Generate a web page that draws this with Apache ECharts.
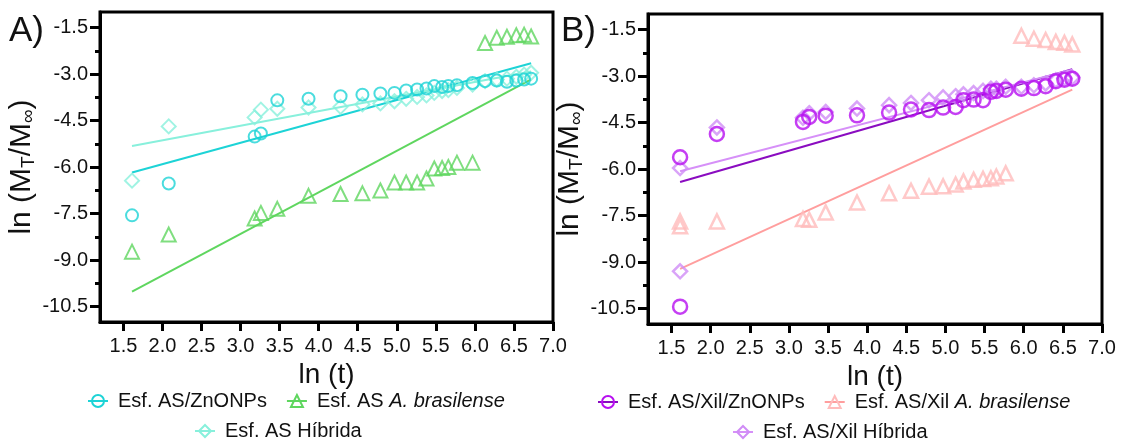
<!DOCTYPE html>
<html>
<head>
<meta charset="utf-8">
<script src="https://cdn.jsdelivr.net/npm/echarts@6/dist/echarts.min.js"></script>
<style>
  html, body { margin: 0; padding: 0; background: #fff; }
  #chart { width: 1140px; height: 445px; }
</style>
</head>
<body>
<div id="chart"></div>
<script>
// ---- Panel A: esferas AS ----
const xA = [1.61, 2.08, 3.18, 3.26, 3.47, 3.87, 4.28, 4.56, 4.79, 4.97, 5.12, 5.26,
            5.38, 5.48, 5.58, 5.66, 5.77, 5.97, 6.13, 6.28, 6.41, 6.53, 6.63, 6.72];
const yA_zno  = [-7.56, -6.53, -5.02, -4.92, -3.85, -3.80, -3.72, -3.67, -3.63, -3.61, -3.53, -3.50,
                 -3.47, -3.39, -3.42, -3.39, -3.36, -3.29, -3.23, -3.21, -3.25, -3.21, -3.18, -3.15];
const yA_bras = [-8.73, -8.18, -7.66, -7.48, -7.35, -6.93, -6.87, -6.85, -6.76, -6.50, -6.50, -6.50,
                 -6.37, -6.05, -6.03, -6.00, -5.86, -5.86, -2.00, -1.83, -1.80, -1.75, -1.73, -1.79];
const yA_hib  = [-6.44, -4.69, -4.40, -4.15, -4.12, -4.08, -4.06, -3.98, -3.95, -3.88, -3.80, -3.74,
                 -3.69, -3.61, -3.55, -3.52, -3.45, -3.34, -3.23, -3.18, -3.15, -3.09, -3.02, -2.96];
// linear fits (slope, intercept) in order: ZnONPs, A. brasilense, Híbrida
const fitSlopeA     = [0.69, 1.34, 0.47];
const fitInterceptA = [-7.29, -12.18, -6.08];

// ---- Panel B: esferas AS/Xil ----
const xB = [1.61, 1.61, 2.08, 3.18, 3.26, 3.47, 3.87, 4.28, 4.56, 4.79, 4.97, 5.13,
            5.23, 5.36, 5.48, 5.58, 5.65, 5.77, 5.97, 6.13, 6.28, 6.41, 6.52, 6.62];
const yB_zno  = [-5.62, -10.44, -4.87, -4.48, -4.32, -4.28, -4.27, -4.18, -4.08, -4.10, -4.02, -4.00,
                 -3.78, -3.76, -3.78, -3.51, -3.48, -3.44, -3.41, -3.39, -3.33, -3.17, -3.12, -3.09];
const yB_bras = [-7.69, -7.85, -7.69, -7.61, -7.64, -7.40, -7.08, -6.78, -6.70, -6.57, -6.56, -6.50,
                 -6.40, -6.35, -6.32, -6.30, -6.24, -6.14, -1.70, -1.80, -1.84, -1.90, -1.93, -1.98];
const yB_hib  = [-5.97, -9.30, -4.66, -4.35, -4.20, -4.16, -4.05, -3.94, -3.87, -3.78, -3.69, -3.65,
                 -3.59, -3.55, -3.48, -3.41, -3.41, -3.35, -3.35, -3.30, -3.24, -3.14, -3.08, -3.05];
const fitSlopeB     = [0.726, 1.154, 0.655];
const fitInterceptB = [-7.59, -11.08, -7.13];

// ---- axis ticks ----
const xTicks = [1.5, 2.0, 2.5, 3.0, 3.5, 4.0, 4.5, 5.0, 5.5, 6.0, 6.5, 7.0];
const yTicks = [-10.5, -9.0, -7.5, -6.0, -4.5, -3.0, -1.5];
const yMinorTicks = [-9.75, -8.25, -6.75, -5.25, -3.75, -2.25];

// ---- series labels ----
const namesA = ['Esf. AS/ZnONPs', 'Esf. AS A. brasilense', 'Esf. AS Híbrida'];
const namesB = ['Esf. AS/Xil/ZnONPs', 'Esf. AS/Xil A. brasilense', 'Esf. AS/Xil Híbrida'];

const FONT = '"Liberation Sans", Arial, Helvetica, sans-serif';
const symbols = ['circle', 'triangle', 'diamond'];
const markerColorsA = ['#1dd3d6', '#5fd65f', '#88f0dc'];
const lineColorsA   = ['#1dd3d6', '#5fd65f', '#88f0dc'];
const markerColorsB = ['#b70ff0', '#ffbcbc', '#d08cf6'];
const lineColorsB   = ['#8a0cc0', '#ff9e9e', '#d690f8'];

const pts = (xs, ys) => xs.map((x, i) => [x, ys[i]]);
const fitLine = (xs, m, b) => {
  const x0 = Math.min(...xs), x1 = Math.max(...xs);
  return [[x0, m * x0 + b], [x1, m * x1 + b]];
};

function panelSeries(idx, yIdx, xs, ysList, slopes, intercepts, names, mColors, lColors, sizes, bw) {
  const out = [];
  // fitted lines first: they carry the legend icon (line + hollow marker)
  names.forEach((name, k) => {
    out.push({
      type: 'line', name, xAxisIndex: idx, yAxisIndex: yIdx,
      data: fitLine(xs, slopes[k], intercepts[k]),
      symbol: symbols[k], symbolSize: sizes[k], showSymbol: false,
      lineStyle: { color: lColors[k], width: 2 },
      itemStyle: { color: 'rgba(0,0,0,0)', borderColor: mColors[k], borderWidth: 2 },
      silent: true, z: 2
    });
  });
  // measured points, hollow markers
  [2, 1, 0].forEach(k => {
    out.push({
      type: 'scatter', name: names[k], xAxisIndex: idx, yAxisIndex: yIdx,
      data: pts(xs, ysList[k]),
      symbol: symbols[k], symbolSize: sizes[k],
      itemStyle: { color: 'rgba(0,0,0,0)', borderColor: mColors[k], borderWidth: bw },
      z: 3
    });
  });
  return out;
}

function xAxisFor(gridIndex) {
  return {
    type: 'value', gridIndex, min: 1.2, max: 7.0,
    axisLine: { show: true, lineStyle: { color: '#000', width: 3 } },
    axisTick: { show: true, customValues: xTicks, length: 9, lineStyle: { color: '#000', width: 3 } },
    axisLabel: { customValues: xTicks, formatter: v => v.toFixed(1), fontSize: 20,
                 fontFamily: FONT, color: '#111', margin: 14 },
    splitLine: { show: false },
    name: 'ln (t)', nameLocation: 'middle', nameGap: 30,
    nameTextStyle: { fontSize: 28, fontFamily: FONT, color: '#111' }
  };
}

function yAxesFor(gridIndex) {
  return [{
    type: 'value', gridIndex, min: -11, max: -1,
    axisLine: { show: true, lineStyle: { color: '#000', width: 3 } },
    axisTick: { show: true, customValues: yTicks, length: 10, lineStyle: { color: '#000', width: 3 } },
    axisLabel: { customValues: yTicks, formatter: v => v.toFixed(1), fontSize: 20,
                 fontFamily: FONT, color: '#111', margin: 12 },
    splitLine: { show: false },
    name: '{a|ln (M}{s|T}{a|/M}{s|∞}{a|)}', nameLocation: 'middle', nameGap: 45,
    nameTextStyle: {
      fontFamily: FONT, color: '#111',
      rich: {
        a: { fontSize: 30, fontFamily: FONT, color: '#111' },
        s: { fontSize: 19, fontFamily: FONT, color: '#111', padding: [14, 0, 0, 0] }
      }
    }
  }, {
    // minor ticks between the labelled ones
    type: 'value', gridIndex, min: -11, max: -1, position: 'left',
    axisLine: { show: false },
    axisTick: { show: true, customValues: yMinorTicks, length: 5, lineStyle: { color: '#000', width: 3 } },
    axisLabel: { show: false },
    splitLine: { show: false }
  }];
}

function legendFor(names, left, top) {
  return {
    left, top, padding: 0, itemWidth: 20, itemHeight: 15, itemGap: 19,
    selectedMode: false,
    data: names,
    textStyle: {
      fontSize: 20, fontFamily: FONT, color: '#111',
      rich: {
        n: { fontSize: 20, fontFamily: FONT, color: '#111', padding: [0, 0, 0, 5] },
        i: { fontSize: 20, fontFamily: FONT, color: '#111', fontStyle: 'italic' }
      }
    },
    formatter: name => {
      const cut = name.indexOf('A. brasilense');
      if (cut >= 0) return '{n|' + name.slice(0, cut) + '}{i|A. brasilense}';
      return '{n|' + name + '}';
    }
  };
}

const chart = echarts.init(document.getElementById('chart'), null, { renderer: 'canvas' });
chart.setOption({
  animation: false,
  backgroundColor: '#fff',
  title: [
    { text: 'A)', left: 9, top: 14, padding: 0,
      textStyle: { fontSize: 35, fontWeight: 'normal', fontFamily: FONT, color: '#111' } },
    { text: 'B)', left: 561, top: 14, padding: 0,
      textStyle: { fontSize: 35, fontWeight: 'normal', fontFamily: FONT, color: '#111' } }
  ],
  grid: [
    { left: 100, top: 12, width: 453, height: 310, show: true, borderColor: '#000', borderWidth: 3 },
    { left: 648, top: 14, width: 454, height: 310, show: true, borderColor: '#000', borderWidth: 3 }
  ],
  xAxis: [xAxisFor(0), xAxisFor(1)],
  yAxis: [...yAxesFor(0), ...yAxesFor(1)],
  legend: [
    legendFor([namesA[0], namesA[1]], 87, 391),
    legendFor([namesA[2]], 194, 421),
    legendFor([namesB[0], namesB[1]], 597, 392),
    legendFor([namesB[2]], 732, 422)
  ],
  series: [
    ...panelSeries(0, 0, xA, [yA_zno, yA_bras, yA_hib], fitSlopeA, fitInterceptA, namesA,
                   markerColorsA, lineColorsA, [12, 14, 14], 2),
    ...panelSeries(1, 2, xB, [yB_zno, yB_bras, yB_hib], fitSlopeB, fitInterceptB, namesB,
                   markerColorsB, lineColorsB, [14, 14, 14], 2.5)
  ]
});
</script>
</body>
</html>
